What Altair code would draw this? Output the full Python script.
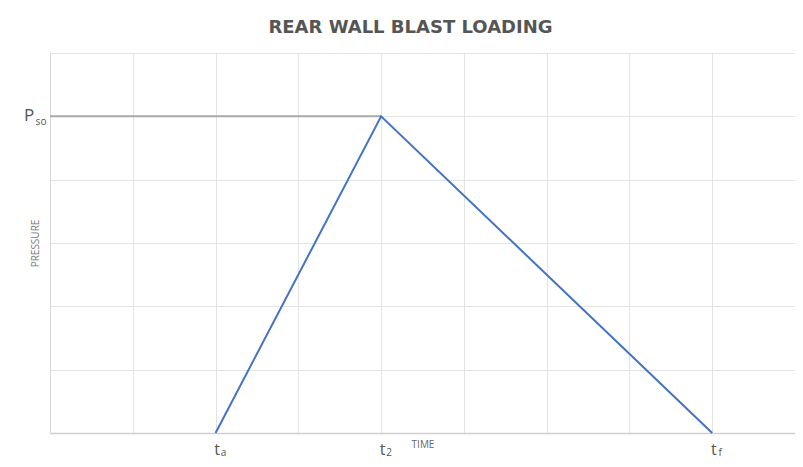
import altair as alt
import pandas as pd

# Data
load_time = [2, 4, 8]          # t_a, t_2, t_f
load_pressure = [0, 5, 0]      # 0, P_so, 0
pso_time = [0, 4]
pso_pressure = [5, 5]
x_ticks = list(range(10))
y_ticks = list(range(7))
x_label_pos = [2, 4, 8]
x_label_main = ["t", "t", "t"]
x_label_sub = ["a", "2", "f"]
y_label_pos = [5]
y_label_main = ["P"]
y_label_sub = ["so"]

load_df = pd.DataFrame({"time": load_time, "pressure": load_pressure})
pso_df = pd.DataFrame({"time": pso_time, "pressure": pso_pressure})
xlab_df = pd.DataFrame({"time": x_label_pos, "main": x_label_main, "sub": x_label_sub})
ylab_df = pd.DataFrame({"pressure": y_label_pos, "main": y_label_main, "sub": y_label_sub})

W, H = 745, 380
xscale = alt.Scale(domain=[0, 9], nice=False)
yscale = alt.Scale(domain=[0, 6], nice=False)

x_enc = alt.X("time:Q", scale=xscale,
              axis=alt.Axis(values=x_ticks, labels=False, ticks=False, title="TIME",
                            grid=True, gridColor="#e3e3e3", gridWidth=1,
                            domainColor="#d0d0d0", domainWidth=1.5,
                            titleFontSize=10, titleFont="Open Sans", titleFontWeight="normal",
                            titleColor="#666", titlePadding=6))
y_enc = alt.Y("pressure:Q", scale=yscale,
              axis=alt.Axis(values=y_ticks, labels=False, ticks=False, title="PRESSURE",
                            grid=True, gridColor="#e3e3e3", gridWidth=1,
                            domainColor="#d8d8d8", domainWidth=1,
                            titleFontSize=10, titleFont="Open Sans", titleFontWeight="normal",
                            titleColor="#777", titlePadding=10))

pso_line = alt.Chart(pso_df).mark_line(color="#a9a9a9", strokeWidth=2, clip=False).encode(
    x=x_enc, y=y_enc)

load_line = alt.Chart(load_df).mark_line(color="#4472c4", strokeWidth=2, clip=False).encode(
    x="time:Q", y="pressure:Q")

xmain = alt.Chart(xlab_df).mark_text(fontSize=16, font="Open Sans", color="#555",
                                     align="center", baseline="alphabetic", dx=1.5, dy=22).encode(
    x="time:Q", y=alt.datum(0), text="main:N")
xsub = alt.Chart(xlab_df).mark_text(fontSize=10, font="Open Sans", color="#555",
                                    align="center", baseline="alphabetic", dx=8, dy=23).encode(
    x="time:Q", y=alt.datum(0), text="sub:N")

ymain = alt.Chart(ylab_df).mark_text(fontSize=17, font="Open Sans", color="#555",
                                     align="center", baseline="middle", dx=-21, dy=0).encode(
    x=alt.datum(0), y="pressure:Q", text="main:N")
ysub = alt.Chart(ylab_df).mark_text(fontSize=10, font="Open Sans", color="#555",
                                    align="center", baseline="middle", dx=-9, dy=6).encode(
    x=alt.datum(0), y="pressure:Q", text="sub:N")

chart = alt.layer(pso_line, load_line, xmain, xsub, ymain, ysub).properties(
    width=W, height=H,
    title=alt.TitleParams("REAR WALL BLAST LOADING", fontSize=18, font="DejaVu Sans",
                          fontWeight="bold", color="#555", anchor="middle", dx=-12, offset=16),
    autosize=alt.AutoSizeParams(type="none"),
    padding={"left": 42, "top": 45, "right": 0, "bottom": 26},
).configure_view(stroke=None).configure(background="white")

chart.save("out.html", embed_options={"renderer": "svg", "actions": False})
